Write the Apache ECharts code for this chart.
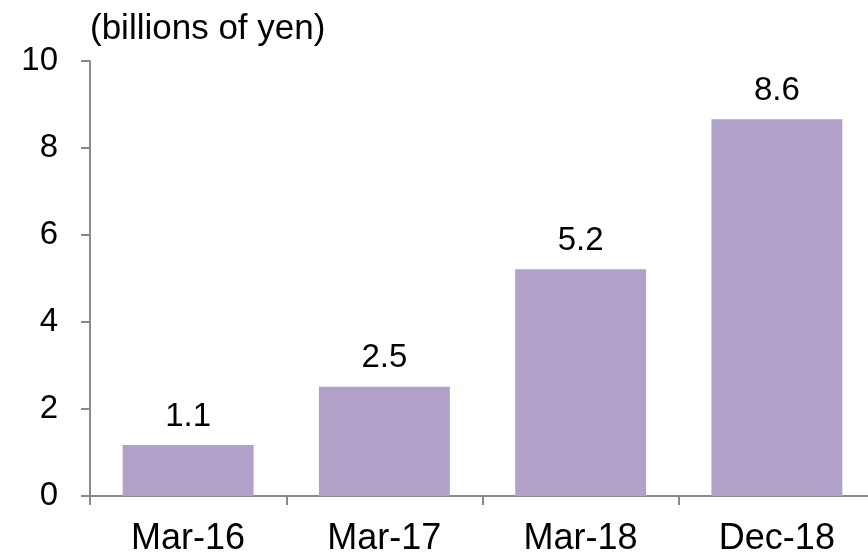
<!DOCTYPE html>
<html><head><meta charset="utf-8">
<script src="https://cdn.jsdelivr.net/npm/echarts@6/dist/echarts.min.js"></script>
<style>html,body{margin:0;padding:0;background:#fff}#c{width:868px;height:557px}</style>
</head><body><div id="c"></div>
<script>
const categories = ['Mar-16', 'Mar-17', 'Mar-18', 'Dec-18'];
const values = [1.17, 2.51, 5.21, 8.66];
const valueLabels = ['1.1', '2.5', '5.2', '8.6'];
const yTicks = [0, 2, 4, 6, 8, 10];
const unitLabel = '(billions of yen)';

const chart = echarts.init(document.getElementById('c'), null, {renderer: 'canvas'});
const font = 'Liberation Sans, Arial, sans-serif';
chart.setOption({
  animation: false,
  title: {text: unitLabel, left: 85, top: 7,
    textStyle: {fontFamily: font, fontSize: 35, fontWeight: 'normal', color: '#000'}},
  grid: {left: 90, top: 61, bottom: 61, width: 785, containLabel: false, outerBoundsMode: 'none'},
  xAxis: {
    type: 'category', data: categories,
    axisLine: {lineStyle: {color: '#898989', width: 2}},
    axisTick: {show: true, length: 9, lineStyle: {color: '#898989', width: 2}},
    axisLabel: {fontFamily: font, fontSize: 36, color: '#000', margin: 25}
  },
  yAxis: {
    type: 'value', min: yTicks[0], max: yTicks[yTicks.length - 1], interval: 2,
    axisLine: {show: true, lineStyle: {color: '#898989', width: 2}},
    axisTick: {show: true, length: 9, lineStyle: {color: '#898989', width: 2}},
    splitLine: {show: false},
    axisLabel: {fontFamily: font, fontSize: 33, color: '#000', margin: 32}
  },
  series: [{
    type: 'bar', data: values, barWidth: '66.7%',
    itemStyle: {color: '#B1A1C8'},
    label: {show: true, position: 'top', distance: 12,
      fontFamily: font, fontSize: 33, color: '#000',
      formatter: p => valueLabels[p.dataIndex]}
  }]
});
</script></body></html>
